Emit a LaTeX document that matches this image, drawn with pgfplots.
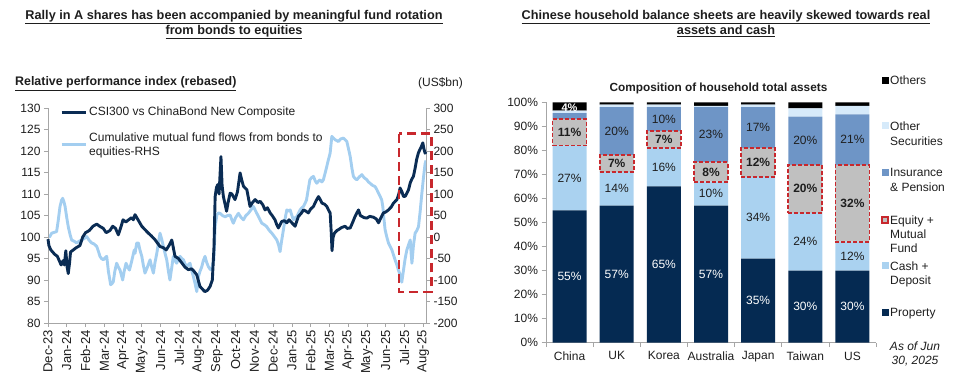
\documentclass[border=0pt]{standalone}
\usepackage{fontspec}
\setmainfont{Liberation Sans}
\usepackage{pgfplots}
\pgfplotsset{compat=1.18}

\definecolor{navy}{RGB}{10,44,84}
\definecolor{lightb}{RGB}{163,206,240}
\definecolor{prop}{RGB}{5,42,82}
\definecolor{cash}{RGB}{170,210,240}
\definecolor{equity}{RGB}{192,192,192}
\definecolor{ins}{RGB}{110,149,198}
\definecolor{othsec}{RGB}{214,234,250}
\definecolor{redc}{RGB}{200,40,45}
\definecolor{axgray}{RGB}{166,166,166}
\definecolor{txt}{RGB}{30,30,30}

\newcommand{\fs}[2]{\fontsize{#1}{#2}\selectfont}

\pgfplotsset{
  /pgf/number format/assume math mode=true,
  every axis/.append style={
    scale only axis, anchor=south west,
    tick align=outside,
    tick label style={text=txt},
  },
}

\begin{document}
\begin{tikzpicture}[x=1pt,y=1pt]
\path[use as bounding box] (0,0) rectangle (958,390);

% ---------------- Left chart titles ----------------
\node[anchor=base, font=\bfseries\fs{12.7}{15}, text=txt] at (234,370.5) {\underline{Rally in A shares has been accompanied by meaningful fund rotation}};
\node[anchor=base, font=\bfseries\fs{12.7}{15}, text=txt] at (234,355.5) {\underline{from bonds to equities}};
\node[anchor=base west, font=\bfseries\fs{12.4}{15}, text=txt, inner sep=0pt] at (15,304) {\underline{Relative performance index (rebased)}};
\node[anchor=base east, font=\fs{12}{14}, text=txt, inner sep=0pt] at (463,303) {(US\$bn)};

% ---------------- Left chart: RHS series ----------------
\begin{axis}[
  at={(48pt,67pt)}, width=378pt, height=215pt,
  xmin=0, xmax=20.15, ymin=-200, ymax=300,
  axis x line=none, axis y line*=right,
  ytick={-200,-150,...,300},
  y axis line style={axgray, line width=0.8pt},
  ytick style={axgray, line width=0.6pt}, major tick length=4pt,
  yticklabel style={font=\fs{12}{14}},
]
\addplot[lightb, line width=2.9pt, line join=round] coordinates {
(0,2)(0.08,0)(0.2,9)(0.35,11)(0.46,12.6)(0.55,40)(0.64,71)(0.72,85)(0.78,90)(0.85,82)(0.91,71)(1.0,45)(1.08,24)(1.18,5)(1.26,-7)(1.4,-10)(1.53,-14)(1.65,-10)(1.8,-7)(1.95,-3)(2.06,1)(2.2,-8)(2.33,-14)(2.45,-16)(2.6,-22)(2.7,-35)(2.77,-45)(2.85,-50)(2.95,-53)(3.05,-48)(3.13,-45)(3.22,-80)(3.34,-111)(3.42,-108)(3.48,-104)(3.56,-80)(3.66,-61)(3.75,-70)(3.84,-77)(3.92,-90)(3.98,-100)(4.06,-80)(4.16,-61)(4.25,-70)(4.34,-77)(4.44,-60)(4.52,-45)(4.6,-30)(4.64,-38)(4.73,-14)(4.82,-14)(4.9,-30)(5.0,-45)(5.08,-65)(5.17,-84)(5.3,-70)(5.44,-53)(5.53,-70)(5.62,-84)(5.7,-60)(5.8,-38)(5.9,-10)(5.97,9)(6.06,-5)(6.15,-22)(6.25,-40)(6.33,-53)(6.42,-80)(6.5,-100)(6.6,-70)(6.68,-45)(6.77,-55)(6.86,-61)(6.95,-50)(7.04,-45)(7.13,-50)(7.22,-53)(7.3,-62)(7.4,-69)(7.48,-65)(7.57,-61)(7.66,-78)(7.75,-92)(7.85,-110)(7.93,-127)(7.98,-110)(8.02,-92)(8.1,-80)(8.2,-69)(8.28,-55)(8.37,-45)(8.45,-58)(8.55,-69)(8.64,-75)(8.73,-77)(8.8,-60)(8.84,-53)(8.91,24)(9.0,51)(9.08,56)(9.17,55)(9.3,50)(9.44,47)(9.58,50)(9.71,51)(9.8,40)(9.88,32)(10.0,45)(10.15,55)(10.3,45)(10.42,40)(10.55,50)(10.68,55)(10.8,62)(10.95,71)(11.05,62)(11.13,55)(11.25,45)(11.4,32)(11.55,28)(11.66,24)(11.8,15)(11.93,9)(12.05,2)(12.2,-7)(12.3,-20)(12.37,-34)(12.45,-10)(12.55,17)(12.65,45)(12.73,63)(12.82,60)(12.91,63)(13.0,50)(13.08,40)(13.18,45)(13.26,47)(13.35,55)(13.44,63)(13.53,68)(13.62,71)(13.7,78)(13.78,86)(13.87,110)(13.96,133)(14.05,138)(14.15,141)(14.25,130)(14.33,125)(14.42,130)(14.5,133)(14.6,128)(14.68,133)(14.78,150)(14.86,164)(14.95,180)(15.04,195)(15.13,234)(15.22,230)(15.31,226)(15.4,224)(15.48,222)(15.6,228)(15.75,230)(15.84,226)(15.93,222)(16.02,205)(16.11,187)(16.2,160)(16.28,141)(16.37,136)(16.46,133)(16.6,140)(16.73,145)(16.85,138)(17.0,133)(17.08,128)(17.17,125)(17.3,120)(17.44,117)(17.53,110)(17.62,102)(17.7,95)(17.79,86)(17.85,70)(17.9,45)(17.97,17)(18.06,0)(18.15,-14)(18.24,-22)(18.33,-30)(18.42,-42)(18.5,-53)(18.6,-65)(18.68,-77)(18.77,-88)(18.86,-105)(18.95,-77)(19.04,-50)(19.13,-30)(19.22,-18)(19.31,-7)(19.36,-40)(19.4,-61)(19.48,-20)(19.57,9)(19.66,15)(19.75,24)(19.84,60)(19.93,102)(20.02,140)(20.1,170)(20.15,178)
};
\end{axis}

% ---------------- Left chart: LHS series ----------------
\begin{axis}[
  at={(48pt,67pt)}, width=378pt, height=215pt,
  xmin=0, xmax=20.15, ymin=80, ymax=130,
  axis x line*=bottom, axis y line*=left,
  x axis line style={axgray, line width=0.8pt},
  y axis line style={axgray, line width=0.8pt},
  tick style={axgray, line width=0.6pt}, major tick length=4pt,
  ytick={80,85,...,130},
  yticklabel style={font=\fs{12}{14}},
  xtick={0,...,20},
  xticklabels={Dec-23,Jan-24,Feb-24,Mar-24,Apr-24,May-24,Jun-24,Jul-24,Aug-24,Sep-24,Oct-24,Nov-24,Dec-24,Jan-25,Feb-25,Mar-25,Apr-25,May-25,Jun-25,Jul-25,Aug-25},
  xticklabel style={rotate=90, anchor=east, font=\fs{13}{15}},
  clip=false,
  legend cell align=left,
  legend style={at={(0.032,1.014)}, anchor=north west, draw=none, fill=none,
    font=\fs{12}{14.6}, text=txt, row sep=11pt, inner sep=0pt,
    cells={align=left}},
  legend image code/.code={\draw[#1] (0pt,0pt) -- (24pt,0pt);},
]
\addplot[navy, line width=2.9pt, line join=round] coordinates {
(0,99.5)(0.05,98)(0.15,97)(0.25,96.5)(0.35,96)(0.5,95.5)(0.6,94.5)(0.7,93.5)(0.8,94.5)(0.87,93.5)(0.95,96.8)(1.02,93)(1.08,91.5)(1.15,94)(1.2,96.5)(1.35,97)(1.5,97.5)(1.7,98)(1.85,100)(2.0,101)(2.2,101.5)(2.4,102.5)(2.6,103)(2.75,102.5)(2.95,102)(3.1,101)(3.3,101.5)(3.45,102.5)(3.6,102)(3.75,100.5)(3.9,102.5)(4.0,104)(4.15,103.5)(4.3,104)(4.45,104.5)(4.55,104)(4.64,105.2)(4.8,104)(5.0,102.5)(5.15,101.8)(5.35,100.9)(5.5,100.3)(5.7,99.4)(5.85,98.5)(5.97,97.8)(6.15,97.5)(6.3,97)(6.45,98)(6.6,99.3)(6.77,95.5)(6.95,95)(7.13,94)(7.3,93)(7.48,92.4)(7.65,92.6)(7.75,92.2)(7.93,91.2)(8.1,88.5)(8.25,87.8)(8.36,87.3)(8.5,87.6)(8.64,88.5)(8.76,90)(8.85,97.8)(8.91,109.4)(8.98,111.5)(9.05,112.2)(9.12,110)(9.22,118.7)(9.28,112)(9.35,109.4)(9.52,106)(9.6,108)(9.71,110.2)(9.8,110)(9.88,109.4)(9.97,108.7)(10.1,110.5)(10.24,114.9)(10.33,113.2)(10.42,111.8)(10.6,111)(10.77,107.1)(10.9,108)(11.04,108.7)(11.2,108)(11.31,108.3)(11.45,107.5)(11.57,106.3)(11.7,106.8)(11.84,105.6)(11.95,105)(12.1,104)(12.2,102.8)(12.28,102.1)(12.46,103.6)(12.6,103.8)(12.73,103.3)(12.85,104)(13.0,103.3)(13.17,102.5)(13.35,104.8)(13.5,105.5)(13.62,106.3)(13.75,106)(13.88,105.6)(14.0,106.5)(14.15,107.1)(14.3,108.5)(14.42,109.4)(14.5,108.8)(14.6,107.9)(14.75,107.6)(14.86,107.1)(14.95,106.3)(15.04,105.6)(15.1,101)(15.14,96.8)(15.2,100)(15.27,100.9)(15.4,101.5)(15.48,101.7)(15.65,102.2)(15.84,102.5)(15.95,102)(16.11,102.1)(16.25,103.5)(16.37,104.8)(16.55,106.3)(16.65,105)(16.73,104.8)(16.85,104.5)(17.0,104.4)(17.15,104.8)(17.35,104.6)(17.5,104.2)(17.62,103.3)(17.75,104.5)(17.88,105.6)(18.0,105.8)(18.15,106.3)(18.3,107)(18.42,107.9)(18.6,108.7)(18.7,110)(18.77,111.4)(18.87,110.5)(18.95,109.4)(19.05,109.5)(19.13,110.2)(19.22,111)(19.31,112.6)(19.4,113.5)(19.48,114.1)(19.57,116)(19.65,118)(19.74,119.5)(19.82,120.3)(19.9,121)(19.98,121.9)(20.04,120.5)(20.1,119.5)(20.15,119.8)
};
\addlegendentry{CSI300 vs ChinaBond New Composite}
\addlegendimage{lightb, line width=2.9pt}
\addlegendentry{Cumulative mutual fund flows from bonds to\\equities-RHS}
\draw[redc, line width=2.6pt, dash pattern=on 9pt off 5pt] (axis cs:18.72,124) rectangle (axis cs:20.43,87.2);
\end{axis}

% ---------------- Right chart titles ----------------
\node[anchor=base, font=\bfseries\fs{12.7}{15}, text=txt] at (726,370.5) {\underline{Chinese household balance sheets are heavily skewed towards real}};
\node[anchor=base, font=\bfseries\fs{12.7}{15}, text=txt] at (726,355.5) {\underline{assets and cash}};
\node[anchor=base, font=\bfseries\fs{11.8}{14}, text=txt] at (718.5,298.7) {Composition of household total assets};

% ---------------- Right chart: stacked bars ----------------
\begin{axis}[
  at={(546pt,47.3pt)}, width=330pt, height=240.4pt,
  ybar stacked, bar width=34pt,
  xmin=-0.5, xmax=6.5, ymin=0, ymax=100,
  axis x line*=bottom, axis y line*=left,
  x axis line style={axgray, line width=0.8pt},
  y axis line style={axgray, line width=0.8pt},
  tick style={axgray, line width=0.6pt},
  major tick length=4.5pt,
  xtick={-0.5,0.5,...,6.5}, xticklabels={{},{},{},{},{},{},{},{}},
  extra x ticks={0,1,2,3,4,5,6},
  extra x tick labels={China,UK,Korea,Australia,Japan,Taiwan,US},
  extra x tick style={tick style={draw=none}, xticklabel style={font=\fs{12}{14}, yshift=-1pt}},
  ytick={0,10,...,100},
  yticklabels={0\%,10\%,20\%,30\%,40\%,50\%,60\%,70\%,80\%,90\%,100\%},
  yticklabel style={font=\fs{12}{14}},
]
\addplot[fill=prop, draw=none] coordinates {(0,55)(1,57)(2,65)(3,57)(4,35)(5,30)(6,30)};
\addplot[fill=cash, draw=none] coordinates {(0,27)(1,14)(2,16)(3,10)(4,34)(5,24)(6,12)};
\addplot[fill=equity, draw=none] coordinates {(0,11)(1,7)(2,7)(3,8)(4,12)(5,20)(6,32)};
\addplot[fill=ins, draw=none] coordinates {(0,2.5)(1,20)(2,10)(3,23)(4,17)(5,20)(6,21)};
\addplot[fill=othsec, draw=none] coordinates {(0,1)(1,1)(2,1)(3,0.5)(4,1)(5,3.5)(6,3.5)};
\addplot[fill=black, draw=none] coordinates {(0,3.5)(1,1)(2,1)(3,1.5)(4,1)(5,2.5)(6,1.5)};
\end{axis}

% equity borders on top
\begin{axis}[
  at={(546pt,47.3pt)}, width=330pt, height=240.4pt,
  ybar stacked, bar width=34pt,
  xmin=-0.5, xmax=6.5, ymin=0, ymax=100, hide axis, clip=false,
]
\addplot[fill=none, draw=none] coordinates {(0,55)(1,57)(2,65)(3,57)(4,35)(5,30)(6,30)};
\addplot[fill=none, draw=none] coordinates {(0,27)(1,14)(2,16)(3,10)(4,34)(5,24)(6,12)};
\addplot[fill=none, draw=redc, line width=1.8pt, dash pattern=on 4pt off 2pt] coordinates {(0,11)(1,7)(2,7)(3,8)(4,12)(5,20)(6,32)};
\end{axis}

% labels
\begin{axis}[
  at={(546pt,47.3pt)}, width=330pt, height=240.4pt,
  xmin=-0.5, xmax=6.5, ymin=0, ymax=100, hide axis, clip=false,
  point meta=explicit,
  nodes near coords={\pgfmathprintnumber{\pgfplotspointmeta}\%},
  nodes near coords align={center},
]
\addplot[draw=none, mark=none, nodes near coords style={text=white, font=\fs{12}{14}}] coordinates {(0,27.5)[55] (1,28.5)[57] (2,32.5)[65] (3,28.5)[57] (4,17.5)[35] (5,15)[30] (6,15)[30]};
\addplot[draw=none, mark=none, nodes near coords style={text=txt, font=\fs{12}{14}}] coordinates {(0,68.5)[27] (1,64)[14] (2,73)[16] (3,62)[10] (4,52)[34] (5,42)[24] (6,36)[12]};
\addplot[draw=none, mark=none, nodes near coords style={text=txt, font=\bfseries\fs{12}{14}}] coordinates {(0,87.5)[11] (1,74.5)[7] (2,84.5)[7] (3,71)[8] (4,75)[12] (5,64)[20] (6,58)[32]};
\addplot[draw=none, mark=none, nodes near coords style={text=txt, font=\fs{12}{14}}] coordinates {(1,88)[20] (2,93)[10] (3,86.5)[23] (4,89.5)[17] (5,84)[20] (6,84.5)[21]};
\addplot[draw=none, mark=none, nodes near coords style={text=white, font=\bfseries\fs{11}{13}}] coordinates {(0,97.8)[4]};
\end{axis}

% ---------------- Right legend ----------------
\fill[black] (881.5,305.8) rectangle (888.5,312.8);
\node[anchor=base west, inner sep=0pt, font=\fs{12}{14}, text=txt] at (890,305) {Others};
\fill[othsec] (881.5,260.5) rectangle (888.5,267.5);
\node[anchor=base west, inner sep=0pt, font=\fs{12}{14}, text=txt] at (890,259.7) {Other};
\node[anchor=base west, inner sep=0pt, font=\fs{12}{14}, text=txt] at (890,244.7) {Securities};
\fill[ins] (881.5,213.8) rectangle (888.5,220.8);
\node[anchor=base west, inner sep=0pt, font=\fs{12}{14}, text=txt] at (890,213) {Insurance};
\node[anchor=base west, inner sep=0pt, font=\fs{12}{14}, text=txt] at (890,198) {\& Pension};
\filldraw[fill=equity, draw=redc, line width=1.2pt] (882,167) rectangle (888,173);
\node[anchor=base west, inner sep=0pt, font=\fs{12}{14}, text=txt] at (890,165.7) {Equity +};
\node[anchor=base west, inner sep=0pt, font=\fs{12}{14}, text=txt] at (890,151.7) {Mutual};
\node[anchor=base west, inner sep=0pt, font=\fs{12}{14}, text=txt] at (890,137.4) {Fund};
\fill[cash] (881.5,120.5) rectangle (888.5,127.5);
\node[anchor=base west, inner sep=0pt, font=\fs{12}{14}, text=txt] at (890,119.7) {Cash +};
\node[anchor=base west, inner sep=0pt, font=\fs{12}{14}, text=txt] at (890,105.7) {Deposit};
\fill[prop] (881.5,74.2) rectangle (888.5,81.2);
\node[anchor=base west, inner sep=0pt, font=\fs{12}{14}, text=txt] at (890,73.4) {Property};
\node[anchor=base, inner sep=0pt, font=\itshape\fs{12}{14}, text=txt] at (915,39) {As of Jun};
\node[anchor=base, inner sep=0pt, font=\itshape\fs{12}{14}, text=txt] at (915,25.7) {30, 2025};
\end{tikzpicture}
\end{document}
